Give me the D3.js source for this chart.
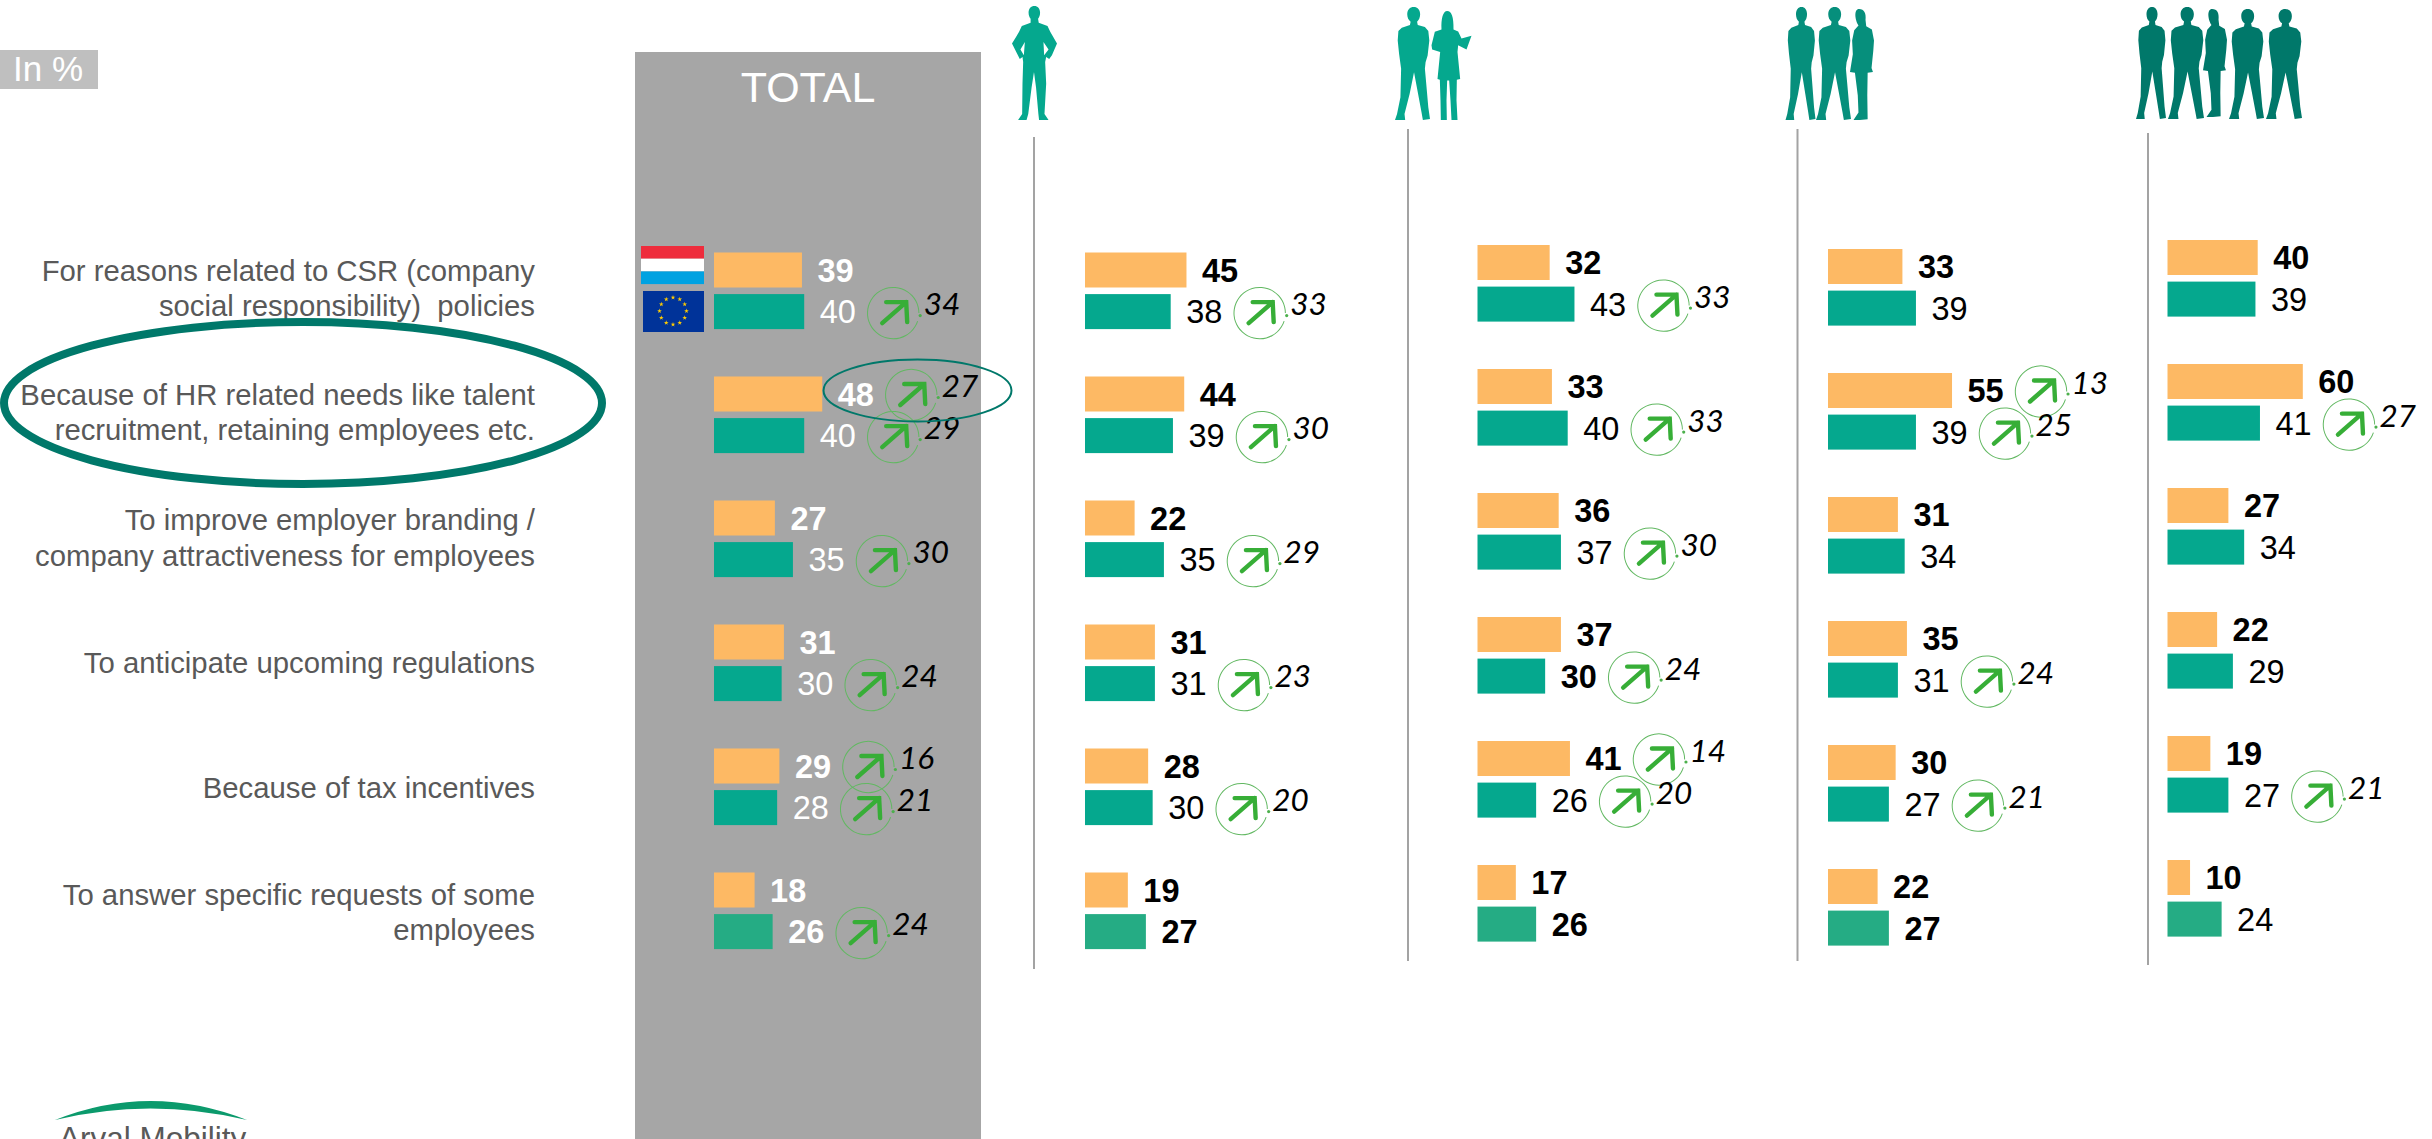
<!DOCTYPE html>
<html><head><meta charset="utf-8">
<script src="https://cdn.jsdelivr.net/npm/d3@7"></script>
<style>
html,body{margin:0;padding:0;background:#fff;overflow:hidden}
text{font-family:"Liberation Sans",Arial,sans-serif;white-space:pre}
.trend{font-family:Lato,"Liberation Sans",sans-serif;font-style:italic}
</style></head><body><div id="chart"></div>
<script>
// ---------- data ----------
const categories = [
  ["For reasons related to CSR (company","social responsibility)  policies"],
  ["Because of HR related needs like talent","recruitment, retaining employees etc."],
  ["To improve employer branding /","company attractiveness for employees"],
  ["To anticipate upcoming regulations"],
  ["Because of tax incentives"],
  ["To answer specific requests of some","employees"]
];
const luxTotal = [39,48,27,31,29,18];
const euTotal  = [40,40,35,30,28,26];
const trendLuxTotal = [null,27,null,null,16,null];
const trendEuTotal  = [34,29,30,24,21,24];
const lux1 = [45,44,22,31,28,19];
const eu1  = [38,39,35,31,30,27];
const trendLux1 = [null,null,null,null,null,null];
const trendEu1  = [33,30,29,23,20,null];
const lux2 = [32,33,36,37,41,17];
const eu2  = [43,40,37,30,26,26];
const trendLux2 = [null,null,null,null,14,null];
const trendEu2  = [33,33,30,24,20,null];
const lux3 = [33,55,31,35,30,22];
const eu3  = [39,39,34,31,27,27];
const trendLux3 = [null,13,null,null,null,null];
const trendEu3  = [null,25,null,24,21,null];
const lux4 = [40,60,27,22,19,10];
const eu4  = [39,41,34,29,27,24];
const trendLux4 = [null,null,null,null,null,null];
const trendEu4  = [null,27,null,null,21,null];
const boldEu = [
  [false,false,false,false,false,true],
  [false,false,false,false,false,true],
  [false,false,false,true,false,true],
  [false,false,false,false,false,true],
  [false,false,false,false,false,false]
];

// ---------- layout ----------
const W=2432,H=1139;
const panels=[
 {lux:luxTotal,eu:euTotal,tl:trendLuxTotal,te:trendEuTotal,x0:714,y0:252.5,ink:"#fff",bold:boldEu[0]},
 {lux:lux1,eu:eu1,tl:trendLux1,te:trendEu1,x0:1085,y0:252.5,ink:"#000",bold:boldEu[1],line:[1034,137,969]},
 {lux:lux2,eu:eu2,tl:trendLux2,te:trendEu2,x0:1477.5,y0:245,ink:"#000",bold:boldEu[2],line:[1408,129,961]},
 {lux:lux3,eu:eu3,tl:trendLux3,te:trendEu3,x0:1828,y0:249,ink:"#000",bold:boldEu[3],line:[1797.5,129,961]},
 {lux:lux4,eu:eu4,tl:trendLux4,te:trendEu4,x0:2167.5,y0:240,ink:"#000",bold:boldEu[4],line:[2148,133,965]}
];
const ORANGE="#fdb964",TEAL="#05a88e",TEAL_LAST="#25ac84",GREEN="#37ae37";
const barH=35,pairGap=41.6,rowSpan=5*124;
const x=d3.scaleLinear().domain([0,60]).range([0,135.3]);
const rowIdx=d3.range(6);
const svg=d3.select("#chart").append("svg").attr("width",W).attr("height",H).style("display","block");

// grey total column & "In %"
svg.append("rect").attr("x",635).attr("y",52).attr("width",346).attr("height",H-52).attr("fill","#a6a6a6");
svg.append("rect").attr("x",0).attr("y",50).attr("width",98).attr("height",39).attr("fill","#bfbfbf");
svg.append("text").attr("x",13).attr("y",81).attr("font-size",35).attr("fill","#fff").text("In %");
svg.append("text").attr("x",808).attr("y",102).attr("font-size",43).attr("text-anchor","middle").attr("fill","#fff").text("TOTAL");

// category labels
const labelBase=[[281,316],[405,440],[530,566],[673],[798],[905,940]];
categories.forEach((lines,i)=>lines.forEach((t,j)=>{
  svg.append("text").attr("x",535).attr("y",labelBase[i][j]).attr("text-anchor","end")
    .attr("font-size",29.3).attr("fill","#595959").text(t);
}));

// flags
const flag=svg.append("g");
[["#ee2c3c",246],["#ffffff",258.7],["#00a2e1",271.4]].forEach(([c,y])=>
  flag.append("rect").attr("x",641).attr("y",y).attr("width",63).attr("height",12.7).attr("fill",c));
flag.append("rect").attr("x",643).attr("y",291).attr("width",61).attr("height",41).attr("fill","#003399");
d3.range(12).forEach(k=>{
  const a=k*Math.PI/6;
  flag.append("path").attr("d",d3.symbol(d3.symbolStar,7)())
    .attr("transform",`translate(${673+13.5*Math.sin(a)},${311-13.5*Math.cos(a)})`).attr("fill","#ffcc00");
});

// separators
panels.filter(p=>p.line).forEach(p=>{
  svg.append("line").attr("x1",p.line[0]).attr("x2",p.line[0]).attr("y1",p.line[1]).attr("y2",p.line[2])
    .attr("stroke","#a3a3a3").attr("stroke-width",2);
});

// trend badge
const ringArc=d3.arc().innerRadius(25.2).outerRadius(26.2);
function badge(g,cx,cy,val){
  const b=g.append("g").attr("transform",`translate(${cx},${cy})`);
  b.append("path").attr("d",ringArc({startAngle:Math.PI*0.60,endAngle:Math.PI*2.5})).attr("fill","#62b862");
  b.append("circle").attr("cx",27).attr("cy",2.5).attr("r",1.6).attr("fill","#4cb04c");
  b.append("path").attr("d","M-11,10L13,-11M-7,-11L13,-11L14,9").attr("fill","none")
    .attr("stroke",GREEN).attr("stroke-width",4.4).attr("stroke-linecap","round").attr("stroke-linejoin","miter");
  b.append("text").attr("class","trend").attr("x",30.5).attr("y",2).attr("font-size",31.5).attr("fill","#000").text(val);
}

// bars
panels.forEach(p=>{
  const y=d3.scalePoint().domain(rowIdx).range([p.y0,p.y0+rowSpan]);
  const g=svg.append("g");
  rowIdx.forEach(i=>{
    const yL=y(i),yE=y(i)+pairGap;
    const wL=x(p.lux[i]),wE=x(p.eu[i]);
    g.append("rect").attr("x",p.x0).attr("y",yL).attr("width",wL).attr("height",barH).attr("fill",ORANGE);
    g.append("rect").attr("x",p.x0).attr("y",yE).attr("width",wE).attr("height",barH).attr("fill",i===5?TEAL_LAST:TEAL);
    g.append("text").attr("x",p.x0+wL+15.5).attr("y",yL+29).attr("font-size",32.5).attr("font-weight",700).attr("fill",p.ink).text(p.lux[i]);
    g.append("text").attr("x",p.x0+wE+15.5).attr("y",yE+29).attr("font-size",32.5).attr("font-weight",p.bold[i]?700:400).attr("fill",p.ink).text(p.eu[i]);
  });
  rowIdx.forEach(i=>{
    if(p.tl[i]!=null) badge(g,p.x0+x(p.lux[i])+89,y(i)+18.5,p.tl[i]);
    if(p.te[i]!=null) badge(g,p.x0+x(p.eu[i])+89,y(i)+pairGap+19,p.te[i]);
  });
});

// silhouettes (shapes traced in a local 3x box)
const manA="M68,42C68,28 76,20 87,20C98,20 106,28 106,42C106,52 102,60 97,64L99,74L120,80L130,92L133,120L128,165L122,185L120,205L124,250L130,320L135,355L114,358L110,335L100,280L88,215L75,280L60,340L62,358L32,358L38,340L48,290L50,205L44,160L40,120L42,92L52,82L76,74L78,64C72,60 68,52 68,42Z";
const woman="M187,33C200,33 207,50 206,88L220,94L230,115L260,107L245,148L220,135L218,155L226,236L216,238L215,300L218,358L200,358L197,300L193,240L187,240L185,300L186,358L168,358L167,300L165,238L158,236L166,155L142,148L140,135L150,95L170,88C168,55 175,33 187,33Z";
const womanSlim="M208,28C222,28 228,40 226,60L228,78L244,88L250,120L248,150L243,200L247,212L232,214L231,280L232,350L210,352L192,352L206,330L204,280L196,214L182,212L190,160L188,120L194,90L206,76C196,60 192,28 208,28Z";
const manHips="M86,38C86,26 93,18 103,18C113,18 120,26 120,38C120,46 117,52 114,56L116,68L142,78L150,95L170,130L155,165L147,176L138,170L135,185L138,250L133,340L145,358L117,358L115,340L108,260L102,215L95,260L85,340L80,358L55,358L67,340L68,250L70,185L68,170L60,176L37,130L58,95L66,78L92,68L92,56C89,52 86,46 86,38ZM75,125L62,148L72,165ZM130,125L145,148L132,165Z";
function fig(d,box,col,px,py,pw,ph){
  const [bx,by,bw,bh]=box;
  svg.append("path").attr("d",d).attr("fill",col).attr("fill-rule","evenodd")
    .attr("transform",`translate(${px},${py}) scale(${pw/bw},${ph/bh}) translate(${-bx},${-by})`);
}
const boxA=[32,20,103,338],boxW=[140,33,120,325],boxS=[182,28,68,324],boxH=[37,18,133,340];
fig(manHips,boxH,TEAL,1012,6,45,114);
fig(manA,boxA,TEAL,1395,7,35,113);
fig(woman,boxW,TEAL,1431.5,11,40,109);
const c3="#068f7c";
fig(manA,boxA,c3,1785.5,7,30,113);
fig(manA,boxA,c3,1816,7,35,113);
fig(womanSlim,boxS,c3,1850,9,24,111);
const c4="#00786a";
fig(manA,boxA,c4,2136,7,30,112);
fig(manA,boxA,c4,2168,7,36,112);
fig(womanSlim,boxS,c4,2203,9,24,108);
fig(manA,boxA,c4,2229,9,35,110);
fig(manA,boxA,c4,2266,9,36,110);

// highlight ellipses
svg.append("ellipse").attr("cx",303).attr("cy",403).attr("rx",299).attr("ry",81).attr("fill","none").attr("stroke","#00786a").attr("stroke-width",8);
svg.append("ellipse").attr("cx",917.5).attr("cy",390.5).attr("rx",94).attr("ry",31).attr("fill","none").attr("stroke","#00786a").attr("stroke-width",2);

// logo
svg.append("path").attr("d","M55,1120Q150,1082 247,1120Q150,1097 55,1120Z").attr("fill","#0b9a6c");
svg.append("text").attr("x",59).attr("y",1149).attr("font-size",31.5).attr("fill","#595959").text("Arval Mobility");
</script></body></html>
